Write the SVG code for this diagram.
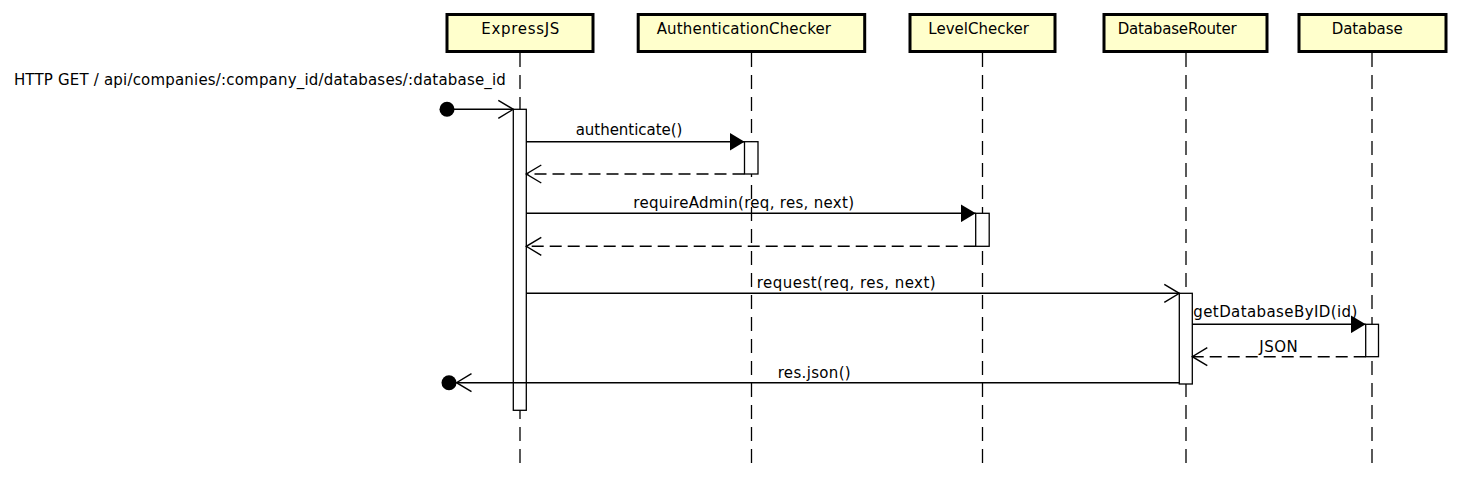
<svg xmlns="http://www.w3.org/2000/svg" width="1458" height="478" viewBox="0 0 1458 478">
<style>
rect.box{fill:#FFFFCC;stroke:#000;stroke-width:3}
text{font-family:"DejaVu Sans","Liberation Sans",sans-serif;font-size:15px;fill:#000}
.life{stroke:#000;stroke-width:1.3;stroke-dasharray:14 8;fill:none}
rect.act{fill:#fff;stroke:#000;stroke-width:1.3}
.msg{stroke:#000;stroke-width:1.4;fill:none}
.ret{stroke-dasharray:12 6}
.dot{fill:#000}
</style>
<defs>
<marker id="filled" markerUnits="userSpaceOnUse" viewBox="0 0 15 18" refX="15" refY="9" markerWidth="15" markerHeight="18" orient="auto">
<path d="M0,0 L15,9 L0,18 Z" fill="#000"/>
</marker>
<marker id="open" markerUnits="userSpaceOnUse" viewBox="-1 -1 17 20" refX="15" refY="9" markerWidth="17" markerHeight="20" orient="auto" overflow="visible">
<path d="M0,0 L15,9 L0,18" fill="none" stroke="#000" stroke-width="1.4" stroke-dasharray="none"/>
</marker>
</defs>

<g id="lifelines">
<line class="life" x1="520" y1="53" x2="520" y2="466"/>
<line class="life" x1="751.5" y1="53" x2="751.5" y2="466"/>
<line class="life" x1="982.5" y1="53" x2="982.5" y2="466"/>
<line class="life" x1="1186" y1="53" x2="1186" y2="466"/>
<line class="life" x1="1372" y1="53" x2="1372" y2="466"/>
</g>

<g id="ExpressJS">
<rect class="box" x="447" y="14.5" width="146" height="37"/>
<text x="481.3" y="34" textLength="78" lengthAdjust="spacing">ExpressJS</text>
<rect class="act" x="513.3" y="109.3" width="13" height="301"/>
</g>
<g id="AuthenticationChecker">
<rect class="box" x="638.2" y="14.5" width="226.5" height="37"/>
<text x="656.7" y="34" textLength="174.3" lengthAdjust="spacing">AuthenticationChecker</text>
<rect class="act" x="744.5" y="141.7" width="13.5" height="32.3"/>
</g>
<g id="LevelChecker">
<rect class="box" x="910" y="14.5" width="145" height="37"/>
<text x="928.3" y="34" textLength="100.7" lengthAdjust="spacing">LevelChecker</text>
<rect class="act" x="975.7" y="213.3" width="13.5" height="33"/>
</g>
<g id="DatabaseRouter">
<rect class="box" x="1104" y="14.5" width="163" height="37"/>
<text x="1117.7" y="34" textLength="119" lengthAdjust="spacing">DatabaseRouter</text>
<rect class="act" x="1179.3" y="293.3" width="13" height="90.7"/>
</g>
<g id="Database">
<rect class="box" x="1299" y="14.5" width="147" height="37"/>
<text x="1331.7" y="34" textLength="71" lengthAdjust="spacing">Database</text>
<rect class="act" x="1365.7" y="324.3" width="12.8" height="32.4"/>
</g>

<g id="connectors">
<circle class="dot" cx="447" cy="109.3" r="7.5"/>
<line class="msg" x1="454" y1="109.3" x2="513.3" y2="109.3" marker-end="url(#open)"/>
<text x="13.9" y="85" textLength="492" lengthAdjust="spacing">HTTP GET / api/companies/:company_id/databases/:database_id</text>

<line class="msg" x1="526.3" y1="141.7" x2="744.5" y2="141.7" marker-end="url(#filled)"/>
<text x="575.7" y="135" textLength="106.7" lengthAdjust="spacing">authenticate()</text>
<line class="msg ret" x1="744.5" y1="174" x2="526.3" y2="174" marker-end="url(#open)"/>

<line class="msg" x1="526.3" y1="213.3" x2="975.7" y2="213.3" marker-end="url(#filled)"/>
<text x="633.3" y="208.3" textLength="220.7" lengthAdjust="spacing">requireAdmin(req, res, next)</text>
<line class="msg ret" x1="975.7" y1="246.3" x2="526.3" y2="246.3" marker-end="url(#open)"/>

<line class="msg" x1="526.3" y1="293.3" x2="1179.3" y2="293.3" marker-end="url(#open)"/>
<text x="756.7" y="288" textLength="179" lengthAdjust="spacing">request(req, res, next)</text>

<line class="msg" x1="1192.3" y1="324.3" x2="1365.7" y2="324.3" marker-end="url(#filled)"/>
<text x="1193.3" y="317.3" textLength="164" lengthAdjust="spacing">getDatabaseByID(id)</text>
<line class="msg ret" x1="1365.7" y1="356.7" x2="1192.3" y2="356.7" marker-end="url(#open)"/>
<text x="1259.3" y="351.7" textLength="38.4" lengthAdjust="spacing">JSON</text>

<line class="msg" x1="1179.3" y1="382.7" x2="456.5" y2="382.7" marker-end="url(#open)"/>
<circle class="dot" cx="449" cy="382.7" r="7.5"/>
<text x="777.7" y="377.7" textLength="73" lengthAdjust="spacing">res.json()</text>
</g>
</svg>
